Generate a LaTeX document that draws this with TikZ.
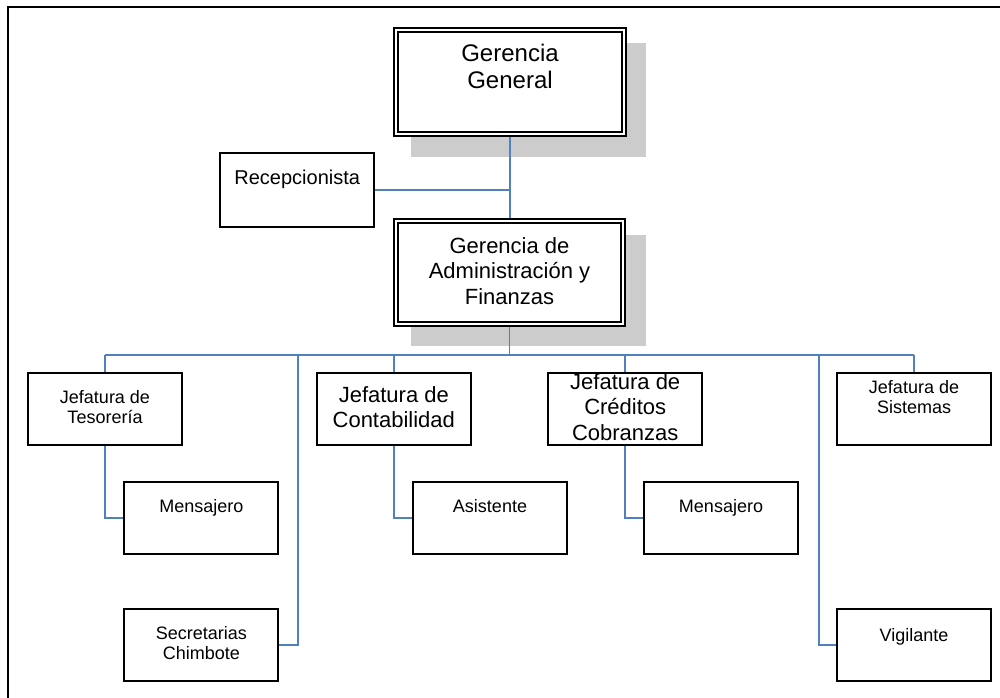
\documentclass[tikz,border=0pt]{standalone}
\usepackage{fontspec}
\setmainfont{Liberation Sans}
\usetikzlibrary{calc}
\pgfdeclarelayer{shade}
\pgfdeclarelayer{links}
\pgfsetlayers{shade,links,main}
\definecolor{linkblue}{RGB}{79,129,189}
\definecolor{shadegray}{RGB}{204,204,204}
\newcommand\fSmall{\fontsize{18}{20}\selectfont}
\newcommand\fRecep{\fontsize{20}{23}\selectfont}
\newcommand\fMid{\fontsize{22}{25.5}\selectfont}
\newcommand\fBig{\fontsize{24}{27}\selectfont}
\begin{document}
\begin{tikzpicture}[x=1pt,y=-1pt,
  box/.style={draw=black, line width=1.8pt, fill=white, inner sep=0pt,
    minimum width=154pt, minimum height=72.3pt},
  dbox/.style={draw=black, fill=white, line width=1.7pt, double=white,
    double distance=2.2pt, inner sep=0pt},
  link/.style={draw=linkblue, line width=1.6pt},
  txt/.style={align=center, inner sep=0pt, text=black},
  shadow/.style={fill=shadegray}]
\useasboundingbox (0,0) rectangle (1000,697);

% page frame
\draw[line width=1.8pt] (8,705) -- (8,7) -- (1005,7);

% management boxes (double border)
\node[dbox, minimum width=227.5pt, minimum height=103.5pt] (gg) at (510,82) {};
\node[dbox, minimum width=226.5pt, minimum height=102.6pt] (ga) at (509.5,272.5) {};

% plain boxes
\node[box, minimum height=73.4pt] (rec) at (297.2,190) {};
\node[box] (tes) at (105,408.8) {};
\node[box] (con) at (393.8,408.8) {};
\node[box] (cre) at (625.2,408.8) {};
\node[box] (sis) at (914,408.8) {};
\node[box] (men1) at (201.3,518.2) {};
\node[box] (asi) at (490,518.2) {};
\node[box] (men2) at (721,518.2) {};
\node[box] (sec) at (201.3,645.2) {};
\node[box] (vig) at (914,645.2) {};

% box labels
\node[txt, font=\fBig] (ggT) at (510,66) {Gerencia\\General};
\node[txt, font=\fMid] (gaT) at (509.5,270.8) {Gerencia de\\Administración y\\Finanzas};
\node[txt, font=\fRecep, anchor=base] (recT) at (297.2,184.3) {Recepcionista};
\node[txt, font=\fSmall] (tesT) at (105,406.8) {Jefatura de\\Tesorería};
\node[txt, font=\fMid, text depth=0pt] (conT) at (393.8,407) {Jefatura de\\Contabilidad};
\node[txt, font=\fMid] (creT) at (625.2,406.7) {Jefatura de\\Créditos\\Cobranzas};
\node[txt, font=\fSmall] (sisT) at (914,396.8) {Jefatura de\\Sistemas};
\node[txt, font=\fSmall, anchor=base] (men1T) at (201.3,512.7) {Mensajero};
\node[txt, font=\fSmall, anchor=base] (asiT) at (490,512.7) {Asistente};
\node[txt, font=\fSmall, anchor=base] (men2T) at (721,512.7) {Mensajero};
\node[txt, font=\fSmall] (secT) at (201.3,643.5) {Secretarias\\Chimbote};
\node[txt, font=\fSmall, anchor=base] (vigT) at (914,641) {Vigilante};

% drop shadows behind the double boxes
\begin{pgfonlayer}{shade}
  \fill[shadow] ($(gg.north west)+(16,14)$) rectangle ($(gg.south east)+(21,22)$);
  \fill[shadow] ($(ga.north west)+(16,15)$) rectangle ($(ga.south east)+(22,21)$);
\end{pgfonlayer}

% connectors
\begin{pgfonlayer}{links}
  \coordinate (busM) at ($(ga.south)+(0,30.5)$);
  \coordinate (busS) at ($(busM)+(-211.5,0)$);
  \coordinate (busV) at ($(busM)+(309.5,0)$);
  \draw[link] (gg.south) -- (gg.south |- ga.north);
  \draw[link] (rec.east) -- (rec.east -| gg.south);
  \draw[link] (ga.south) -- (busM);
  \draw[link] (tes.north |- busM) -- (sis.north |- busM);
  \draw[link] (tes.north) -- (tes.north |- busM);
  \draw[link] (con.north) -- (con.north |- busM);
  \draw[link] (cre.north) -- (cre.north |- busM);
  \draw[link] (sis.north) -- (sis.north |- busM);
  \draw[link] (busS) |- (sec.east);
  \draw[link] (busV) |- (vig.west);
  \draw[link] (tes.south) |- (men1.west);
  \draw[link] (con.south) |- (asi.west);
  \draw[link] (cre.south) |- (men2.west);
\end{pgfonlayer}
\end{tikzpicture}
\end{document}
